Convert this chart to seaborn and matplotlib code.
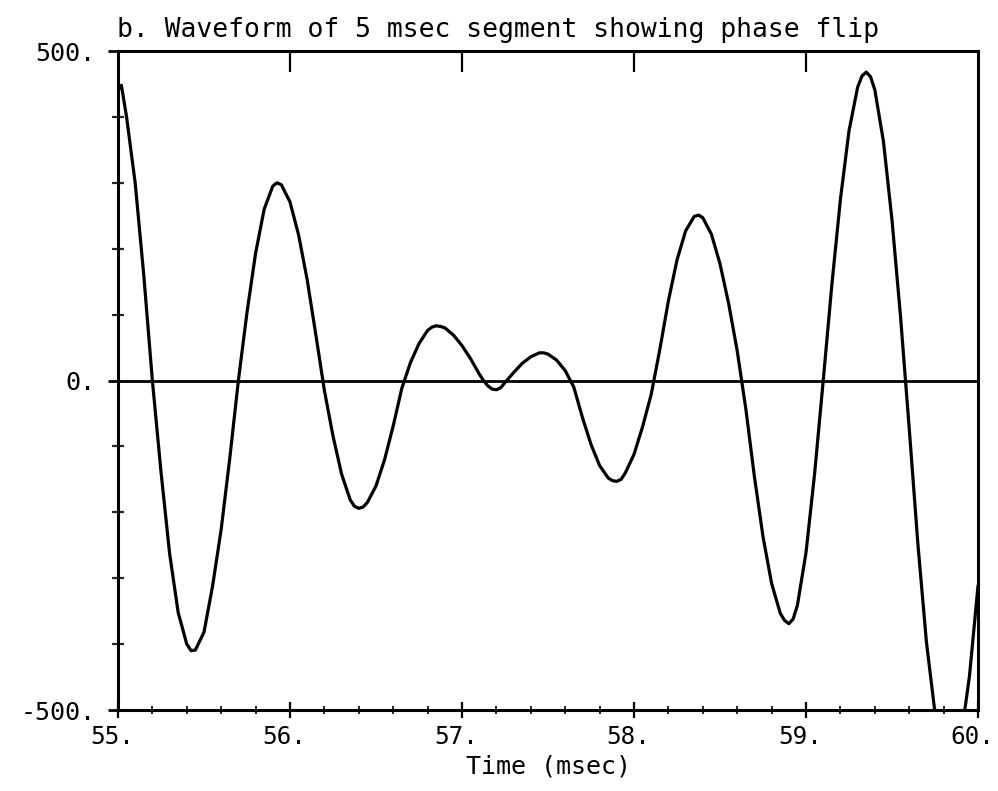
import matplotlib
matplotlib.use("Agg")
import matplotlib.pyplot as plt
import matplotlib.transforms as mtransforms
import seaborn as sns
import pandas as pd
from matplotlib.ticker import MultipleLocator, FixedLocator

# ---- data ----
time_ms = [55.00, 55.02, 55.05, 55.10, 55.15, 55.20, 55.25, 55.30, 55.35, 55.40,
           55.425, 55.45, 55.50, 55.55, 55.60, 55.65, 55.70, 55.75, 55.80, 55.85,
           55.90, 55.925, 55.95, 56.00, 56.05, 56.10, 56.15, 56.20, 56.25, 56.30,
           56.35, 56.375, 56.40, 56.425, 56.45, 56.50, 56.55, 56.60, 56.65, 56.70,
           56.75, 56.80, 56.825, 56.85, 56.875, 56.90, 56.95, 57.00, 57.05, 57.10,
           57.125, 57.15, 57.175, 57.20, 57.225, 57.25, 57.30, 57.35, 57.40, 57.45,
           57.475, 57.50, 57.55, 57.60, 57.65, 57.70, 57.75, 57.80, 57.85, 57.875,
           57.90, 57.925, 57.95, 58.00, 58.05, 58.10, 58.15, 58.20, 58.25, 58.30,
           58.35, 58.375, 58.40, 58.45, 58.50, 58.55, 58.60, 58.65, 58.70, 58.75,
           58.80, 58.85, 58.875, 58.90, 58.925, 58.95, 59.00, 59.05, 59.10, 59.15,
           59.20, 59.25, 59.30, 59.325, 59.35, 59.375, 59.40, 59.45, 59.50, 59.55,
           59.60, 59.65, 59.70, 59.75, 59.80, 59.825, 59.85, 59.90, 59.95, 60.00]
amplitude = [440, 448, 400, 300, 160, 0, -138, -262, -352, -400,
             -410, -409, -382, -312, -226, -118, 0, 103, 193, 260,
             295, 300, 297, 271, 221, 153, 70, -15, -84, -142,
             -181, -191, -194, -192, -185, -160, -120, -69, -12, 27,
             56, 76, 81, 83, 82, 80, 69, 53, 33, 10,
             0, -8, -13, -14, -11, -3, 12, 26, 36, 42,
             42, 40, 31, 15, -10, -56, -97, -129, -148, -152,
             -153, -150, -140, -112, -70, -21, 47, 121, 183, 227,
             249, 251, 247, 222, 177, 117, 45, -43, -146, -237,
             -308, -353, -364, -369, -362, -341, -261, -141, 0, 145,
             275, 379, 445, 462, 468, 461, 441, 363, 243, 95,
             -73, -247, -397, -505, -576, -590, -589, -543, -449, -311]

x_ticks = [55, 56, 57, 58, 59, 60]
x_tick_labels = ["55.", "56.", "57.", "58.", "59.", "60."]
y_ticks = [-500, 0, 500]
y_tick_labels = ["-500.", "0.", "500."]
title_text = "b. Waveform of 5 msec segment showing phase flip"
x_label = "Time (msec)"

df = pd.DataFrame({"time": time_ms, "amp": amplitude})

sns.set_style("white")
plt.rcParams["font.family"] = ["DejaVu Sans Mono", "DejaVu Sans"]

fig = plt.figure(figsize=(9.98, 7.91), dpi=100)
ax = fig.add_axes([0.1182, 0.1024, 0.98 - 0.1182, 0.9355 - 0.1024])

ax.axhline(0, color="black", lw=2.0, zorder=1)
sns.lineplot(data=df, x="time", y="amp", ax=ax, color="black", lw=2.3,
             estimator=None, sort=False, zorder=3)

ax.set_xlim(55, 60)
ax.set_ylim(-500, 500)

for s in ax.spines.values():
    s.set_visible(True)
    s.set_color("black")
    s.set_linewidth(2.2)

# x axis (bottom)
ax.set_xticks(x_ticks)
ax.set_xticklabels(x_tick_labels, fontsize=17.5)
ax.xaxis.set_minor_locator(MultipleLocator(0.2))
ax.tick_params(axis="x", which="major", direction="inout", length=11, width=1.6,
               pad=5, bottom=True, top=False, colors="black")
ax.tick_params(axis="x", which="minor", direction="inout", length=6, width=1.4,
               bottom=True, top=False)
shift = mtransforms.ScaledTranslation(-6 / 100, 0, fig.dpi_scale_trans)
for lab in ax.get_xticklabels():
    lab.set_transform(lab.get_transform() + shift)

# y axis (left)
ax.set_yticks(y_ticks)
ax.set_yticklabels(y_tick_labels, fontsize=18)
ax.yaxis.set_minor_locator(FixedLocator([-400, -300, -200, -100, 100, 200, 300, 400]))
ax.tick_params(axis="y", which="major", direction="out", length=7, width=2.0,
               pad=9, left=True, right=False, colors="black")
ax.tick_params(axis="y", which="minor", direction="inout", length=9, width=1.6,
               left=True, right=False)

# top inward ticks at integers
sec = ax.secondary_xaxis("top")
sec.set_xticks([56, 57, 58, 59])
sec.set_xticklabels([])
sec.tick_params(direction="in", length=15, width=1.6, colors="black")
sec.spines["top"].set_visible(False)

ax.set_xlabel(x_label, fontsize=18, labelpad=4, color="black")
ax.set_ylabel("")
ax.set_title(title_text, loc="left", fontsize=19, pad=10, color="black", x=-0.001)

fig.savefig("out.png", dpi=100, facecolor="white")
